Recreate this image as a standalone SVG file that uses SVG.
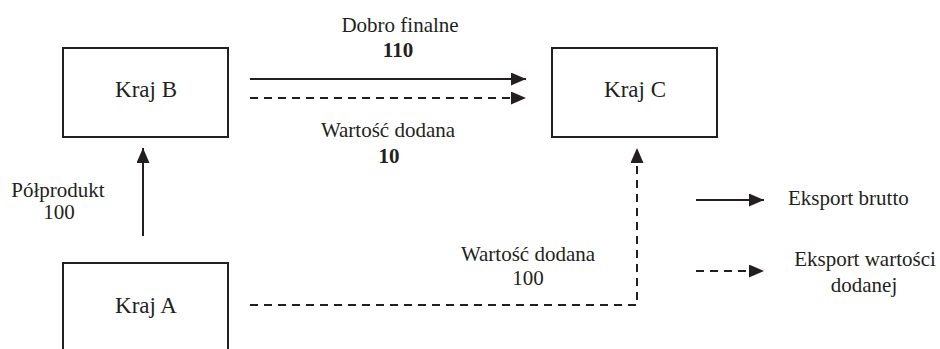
<svg xmlns="http://www.w3.org/2000/svg" width="940" height="349" viewBox="0 0 940 349">
  <style>
    .box { fill: #ffffff; stroke: #231f20; stroke-width: 2; }
    .line { fill: none; stroke: #231f20; stroke-width: 2; }
    .dash { stroke-dasharray: 8 6; }
  </style>
  <defs>
    <marker id="ah" markerUnits="userSpaceOnUse" markerWidth="16" markerHeight="14" refX="15" refY="6.5" orient="auto">
      <path d="M0,0 L15,6.5 L0,13 Z" fill="#231f20"/>
    </marker>
  </defs>
  <rect width="940" height="349" fill="#ffffff"/>

  <g id="kraj-b">
    <rect class="box" x="63" y="48" width="165" height="89"/>
    <text x="146" y="97" font-family="Liberation Serif" font-size="23" text-anchor="middle" fill="#231f20">Kraj B</text>
  </g>
  <g id="kraj-c">
    <rect class="box" x="552" y="48" width="165" height="89"/>
    <text x="635" y="97" font-family="Liberation Serif" font-size="23" text-anchor="middle" fill="#231f20">Kraj C</text>
  </g>
  <g id="kraj-a">
    <rect class="box" x="63" y="263" width="165" height="100"/>
    <text x="146" y="313" font-family="Liberation Serif" font-size="23" text-anchor="middle" fill="#231f20">Kraj A</text>
  </g>

  <g id="connectors">
    <line class="line" x1="250" y1="79" x2="526" y2="79" marker-end="url(#ah)"/>
    <line class="line dash" x1="250" y1="98" x2="526" y2="98" marker-end="url(#ah)"/>
    <line class="line" x1="143" y1="236" x2="143" y2="148" marker-end="url(#ah)"/>
    <path class="line dash" d="M250,305 H637 V148" marker-end="url(#ah)"/>
  </g>

  <g id="labels">
    <text x="400" y="32" font-family="Liberation Serif" font-size="21" text-anchor="middle" fill="#231f20">Dobro finalne</text>
    <text x="398" y="57" font-family="Liberation Serif" font-size="21" font-weight="bold" text-anchor="middle" fill="#231f20">110</text>
    <text x="388" y="137" font-family="Liberation Serif" font-size="21" text-anchor="middle" fill="#231f20">Wartość dodana</text>
    <text x="389" y="163" font-family="Liberation Serif" font-size="21" font-weight="bold" text-anchor="middle" fill="#231f20">10</text>
    <text x="58" y="197" font-family="Liberation Serif" font-size="21" text-anchor="middle" fill="#231f20">Półprodukt</text>
    <text x="59" y="219" font-family="Liberation Serif" font-size="21" text-anchor="middle" fill="#231f20">100</text>
    <text x="528" y="261" font-family="Liberation Serif" font-size="21" text-anchor="middle" fill="#231f20">Wartość dodana</text>
    <text x="528" y="285" font-family="Liberation Serif" font-size="21" text-anchor="middle" fill="#231f20">100</text>
  </g>

  <g id="legend">
    <line class="line" x1="696" y1="200" x2="764" y2="200" marker-end="url(#ah)"/>
    <line class="line dash" x1="696" y1="271" x2="764" y2="271" marker-end="url(#ah)"/>
    <text x="788" y="205" font-family="Liberation Serif" font-size="21" fill="#231f20">Eksport brutto</text>
    <text x="865" y="266" font-family="Liberation Serif" font-size="21" text-anchor="middle" fill="#231f20">Eksport wartości</text>
    <text x="864" y="292" font-family="Liberation Serif" font-size="21" text-anchor="middle" fill="#231f20">dodanej</text>
  </g>
</svg>
